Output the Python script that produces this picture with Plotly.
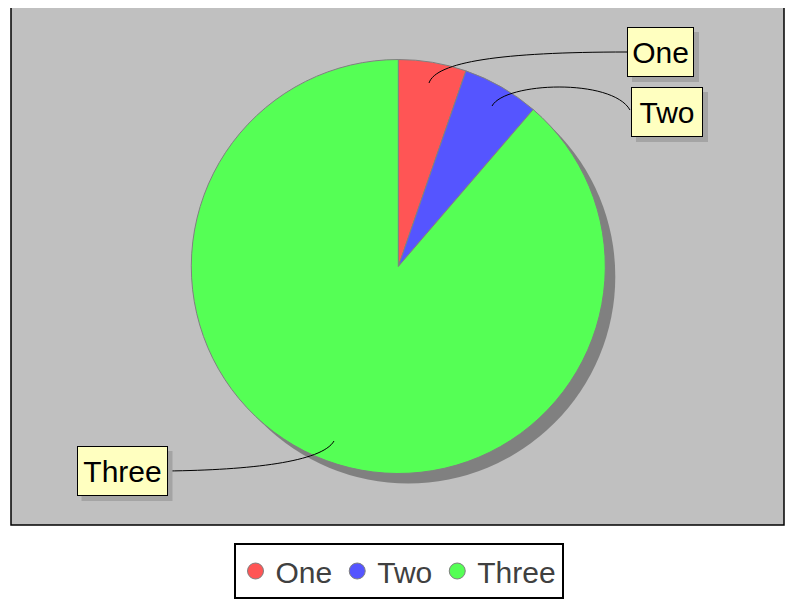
import plotly.graph_objects as go

# page body has an 8px margin, so the figure is drawn 8px in from the corner
OFF = 8
W, H = 794 - OFF, 599 - OFF

labels = ["One", "Two", "Three"]
values = [5.3, 6.0, 88.7]
colors = ["#ff5555", "#5555ff", "#55ff55"]

FONT = "Liberation Sans, Arial, sans-serif"


def px(x):
    return (x - OFF) / W


def py(y):
    return 1 - (y - OFF) / H


def path(pts):
    (x0, y0), rest = pts[0], pts[1:]
    return f"M {px(x0)},{py(y0)} C " + " ".join(f"{px(a)},{py(b)}" for a, b in rest)


cx, cy, r = 398.3, 266.5, 207
sh = 10

fig = go.Figure()

# pie shadow
fig.add_trace(go.Pie(
    values=[1], labels=["shadow"], marker=dict(colors=["#808080"]),
    textinfo="none", hoverinfo="skip", showlegend=False, sort=False,
    domain=dict(x=[px(cx - r + sh), px(cx + r + sh)], y=[py(cy + r + sh), py(cy - r + sh)]),
))

fig.add_trace(go.Pie(
    values=values, labels=labels, marker=dict(colors=colors, line=dict(color="#808080", width=1)),
    textinfo="none", sort=False, direction="clockwise", rotation=0, showlegend=False,
    domain=dict(x=[px(cx - r), px(cx + r)], y=[py(cy + r), py(cy - r)]),
))

# legend entries with round markers
for lab, col in zip(labels, colors):
    fig.add_trace(go.Scatter(
        x=[None], y=[None], mode="markers", name=lab,
        marker=dict(symbol="circle", size=16, color=col, line=dict(color="#808080", width=1)),
    ))

shapes = [
    dict(type="rect", xref="paper", yref="paper", x0=px(11), x1=px(784), y0=py(525), y1=py(7),
         fillcolor="#c0c0c0", line=dict(color="black", width=1.5), layer="below"),
]
for pts in (
    [(429, 83), (436, 62), (500, 52), (627, 52)],
    [(492, 106), (505, 82), (612, 78), (630, 110)],
    [(334, 441), (322, 462), (250, 470), (167, 471)],
):
    shapes.append(dict(type="path", xref="paper", yref="paper", layer="above",
                       line=dict(color="black", width=1), path=path(pts)))

# label boxes: text, centre x, centre y, width
boxes = [("One", 660.5, 52, 67), ("Two", 667, 112, 72), ("Three", 122, 471, 91)]
annotations = []
for text, bx, by, bw in boxes:
    shapes.append(dict(type="rect", xref="paper", yref="paper", layer="above",
                       x0=px(bx - bw / 2 + 5), x1=px(bx + bw / 2 + 5),
                       y0=py(by + 25 + 5), y1=py(by - 25 + 5),
                       fillcolor="#a4a4a4", line=dict(width=0)))
    annotations.append(dict(
        text=text, xref="paper", yref="paper", x=px(bx), y=py(by),
        xanchor="center", yanchor="middle", showarrow=False,
        width=bw - 2, height=48, borderpad=0, borderwidth=1,
        bgcolor="#ffffc0", bordercolor="black",
        font=dict(family=FONT, size=30, color="black"),
    ))

fig.update_layout(
    width=W, height=H,
    margin=dict(l=0, r=0, t=0, b=0),
    paper_bgcolor="white", plot_bgcolor="rgba(0,0,0,0)",
    xaxis=dict(visible=False), yaxis=dict(visible=False),
    shapes=shapes, annotations=annotations,
    showlegend=True,
    legend=dict(
        orientation="h", x=px(398.5), xanchor="center", y=py(543), yanchor="top",
        bordercolor="black", borderwidth=2, bgcolor="white",
        font=dict(family=FONT, size=30, color="#404040"),
        itemsizing="trace",
    ),
)

fig.write_html("out.html")
